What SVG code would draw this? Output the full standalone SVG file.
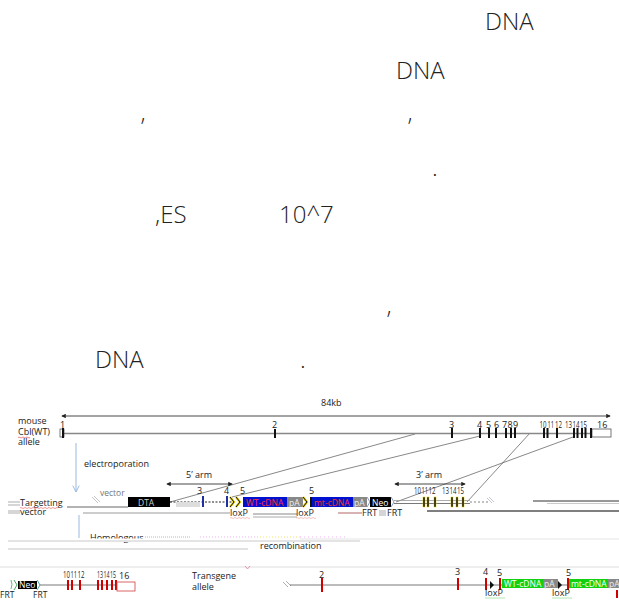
<svg xmlns="http://www.w3.org/2000/svg" width="619" height="601" viewBox="0 0 619 601">
<defs>
<style>
.para{font-family:"Open Sans","Noto Sans",sans-serif;font-size:24px;font-weight:300;fill:#222}
.lb{font-family:"Open Sans","Noto Sans",sans-serif;font-size:9px;fill:#222}
.sm{font-family:"Open Sans","Noto Sans",sans-serif;font-size:8.5px;fill:#222}
.ex{fill:#111}
.rex{fill:#d00000}
.gl{stroke:#bbb;stroke-width:1.2;fill:none}
.dl{stroke:#555;stroke-width:0.7;fill:none}
.bw{fill:#fff;font-family:"Open Sans","Noto Sans",sans-serif;font-size:8.5px}
</style>
<marker id="ah" viewBox="0 0 6 6" refX="5" refY="3" markerWidth="5" markerHeight="5" orient="auto-start-reverse"><path d="M0,0 L6,3 L0,6 z" fill="#222"/></marker>
<marker id="bh" viewBox="0 0 10 10" refX="9" refY="5" markerWidth="8" markerHeight="8" orient="auto"><path d="M1,1 L9,5 L1,9" fill="none" stroke="#9ab8dc" stroke-width="1.2"/></marker>
</defs>
<rect width="619" height="601" fill="#fff"/>

<g id="paragraph">
<text class="para" x="485" y="30">DNA</text>
<text class="para" x="396" y="79">DNA</text>
<text class="para" x="141" y="135">’</text>
<text class="para" x="408" y="135">’</text>
<text class="para" x="432" y="176">.</text>
<text class="para" x="155" y="223">,ES</text>
<text class="para" x="279" y="223">10^7</text>
<text class="para" x="387" y="328">’</text>
<text class="para" x="95" y="368">DNA</text>
<text class="para" x="300" y="368">.</text>
</g>

<g id="connectors">
<line x1="62" y1="416" x2="610" y2="416" stroke="#333" stroke-width="0.9" marker-start="url(#ah)" marker-end="url(#ah)"/>
<line x1="415" y1="434" x2="170" y2="502" class="dl"/>
<line x1="480" y1="436" x2="232" y2="497" class="dl"/>
<line x1="530" y1="433" x2="467" y2="502" class="dl"/>
<line x1="573" y1="437" x2="396" y2="502" class="dl"/>
<line x1="167" y1="484" x2="232" y2="484" stroke="#333" stroke-width="0.9" marker-start="url(#ah)" marker-end="url(#ah)"/>
<line x1="395" y1="484" x2="465" y2="484" stroke="#333" stroke-width="0.9" marker-start="url(#ah)" marker-end="url(#ah)"/>
<line x1="76" y1="443" x2="76" y2="492" stroke="#9ab8dc" stroke-width="1" marker-end="url(#bh)"/>
<line x1="79" y1="515" x2="79" y2="538" stroke="#9ab8dc" stroke-width="1"/>
</g>

<g id="wt-allele">
<text class="lb" x="18" y="424">mouse</text>
<text class="lb" x="18" y="435">Cbl(WT)</text>
<path d="M18,437.5 q1,-1 2,0 t2,0 t2,0 t2,0 t2,0 t2,0" stroke="#e03030" stroke-width="0.6" fill="none"/>
<text class="lb" x="18" y="445">allele</text>
<text class="lb" x="321" y="406">84kb</text>
<line x1="64" y1="433.5" x2="592" y2="433.5" stroke="#888" stroke-width="1.6"/>
<rect x="60" y="429" width="4" height="8" fill="#fff" stroke="#444" stroke-width="0.7"/>
<rect x="592" y="429" width="19" height="8" fill="#fff" stroke="#555" stroke-width="0.8"/>
<g class="ex">
<rect x="62" y="428" width="2" height="10"/>
<rect x="274" y="429" width="2" height="9"/>
<rect x="451" y="428" width="2" height="10"/>
<rect x="479" y="428" width="2" height="10"/>
<rect x="488" y="428" width="2" height="10"/>
<rect x="495" y="428" width="2" height="10"/>
<rect x="505" y="428" width="2" height="10"/>
<rect x="510" y="428" width="2" height="10"/>
<rect x="514" y="428" width="2" height="10"/>
<rect x="543" y="428" width="2" height="10"/>
<rect x="546.5" y="428" width="2" height="10"/>
<rect x="556" y="428" width="2" height="10"/>
<rect x="573" y="428" width="2" height="10"/>
<rect x="576.5" y="428" width="2" height="10"/>
<rect x="581" y="428" width="2" height="10"/>
<rect x="584.5" y="428" width="2" height="10"/>
<rect x="590" y="428" width="2" height="10"/>
</g>
<text class="lb" x="60" y="428">1</text>
<text class="lb" x="272" y="428">2</text>
<text class="lb" x="449" y="428">3</text>
<text class="lb" x="477" y="428">4</text>
<text class="lb" x="486" y="428">5</text>
<text class="lb" x="494" y="428">6</text>
<text class="lb" x="502" y="428">7</text>
<text class="lb" x="507.5" y="428">8</text>
<text class="lb" x="513" y="428">9</text>
<text class="lb" x="539.5" y="428" textLength="7" lengthAdjust="spacingAndGlyphs">10</text>
<text class="lb" x="547.5" y="428" textLength="6.5" lengthAdjust="spacingAndGlyphs">11</text>
<text class="lb" x="555" y="428" textLength="7" lengthAdjust="spacingAndGlyphs">12</text>
<text class="lb" x="565" y="428" textLength="7" lengthAdjust="spacingAndGlyphs">13</text>
<text class="lb" x="572.5" y="428" textLength="7" lengthAdjust="spacingAndGlyphs">14</text>
<text class="lb" x="580" y="428" textLength="7" lengthAdjust="spacingAndGlyphs">15</text>
<text class="lb" x="597" y="428">16</text>
<text class="lb" x="84" y="467">electroporation</text>
</g>

<g id="targeting-vector">
<text class="lb" x="186" y="478">5’  arm</text>
<text class="lb" x="416" y="478">3’  arm</text>
<line x1="8" y1="502" x2="20" y2="502" class="gl"/>
<line x1="8" y1="505" x2="20" y2="505" class="gl"/>
<line x1="8" y1="511" x2="20" y2="511" class="gl"/>
<line x1="8" y1="513" x2="20" y2="513" class="gl"/>
<text class="lb" x="20" y="506">Targetting</text>
<path d="M20,508 q1,-1 2,0 t2,0 t2,0 t2,0 t2,0 t2,0 t2,0 t2,0 t2,0 t2,0 t2,0 t2,0 t2,0 t2,0 t2,0 t2,0 t2,0 t2,0 t2,0" stroke="#e03030" stroke-width="0.5" fill="none"/>
<text class="lb" x="20" y="515">vector</text>
<line x1="67" y1="507" x2="128" y2="507" stroke="#666" stroke-width="1"/>
<line x1="83" y1="513" x2="230" y2="513" stroke="#999" stroke-width="1"/>
<line x1="253" y1="514" x2="297" y2="514" stroke="#888" stroke-width="1"/>
<line x1="253" y1="517" x2="297" y2="517" stroke="#aaa" stroke-width="1"/>
<line x1="427" y1="511" x2="619" y2="511" stroke="#555" stroke-width="1.3"/>
<line x1="533" y1="501" x2="619" y2="501" stroke="#333" stroke-width="1"/>
<line x1="547" y1="503.5" x2="619" y2="503.5" stroke="#aaa" stroke-width="0.6"/>
<text class="sm" x="100" y="496" style="fill:#777">vector</text>
<path d="M92,497 l6,6 M94,496 l6,6" stroke="#aaa" stroke-width="0.7"/>
<line x1="170" y1="502" x2="232" y2="502" stroke="#222" stroke-width="1" stroke-dasharray="2 1.5"/>
<rect x="176" y="502" width="24" height="5" fill="#ddd"/>
<rect x="128" y="497" width="42" height="10" fill="#000"/>
<text class="bw" x="138" y="505.5" style="fill:#ccc">DTA</text>
<rect x="202" y="496" width="2" height="11" fill="#2030a0"/>
<rect x="226" y="496" width="2" height="11" fill="#2030a0"/>
<text class="lb" x="197" y="494">3</text>
<text class="lb" x="224" y="494">4</text>
<text class="lb" x="240" y="494">5</text>
<path d="M230,497 l4,5 l-4,5 M236,497 l4,5 l-4,5" stroke="#e8d000" stroke-width="2.2" fill="none"/>
<path d="M230,497 l4,5 l-4,5 M236,497 l4,5 l-4,5" stroke="#111" stroke-width="1" fill="none"/>
<rect x="243" y="497" width="44" height="10" fill="#0010d0"/>
<text class="bw" x="246" y="505.5" style="fill:#ff3030">WT-cDNA</text>
<rect x="287" y="497" width="16" height="10" fill="#888"/>
<text class="bw" x="289" y="505.5" style="fill:#eee">pA</text>
<path d="M303,497 l4,5 l-4,5" stroke="#e8d000" stroke-width="2.2" fill="none"/>
<path d="M303,497 l4,5 l-4,5" stroke="#111" stroke-width="1" fill="none"/>
<text class="lb" x="230" y="516">loxP</text>
<path d="M230,518 q1,-1 2,0 t2,0 t2,0 t2,0 t2,0 t2,0 t2,0 t2,0 t2,0 t2,0" stroke="#f08080" stroke-width="0.5" fill="none"/>
<text class="lb" x="296" y="516">loxP</text>
<path d="M296,518 q1,-1 2,0 t2,0 t2,0 t2,0 t2,0 t2,0 t2,0 t2,0 t2,0 t2,0" stroke="#f08080" stroke-width="0.5" fill="none"/>
<text class="lb" x="309" y="494">5</text>
<rect x="310" y="497" width="2" height="10" fill="#111"/>
<rect x="312" y="497" width="41" height="10" fill="#0010d0"/>
<text class="bw" x="314" y="505.5" style="fill:#ff3030">mt-cDNA</text>
<rect x="353" y="497" width="14" height="10" fill="#888"/>
<text class="bw" x="354" y="505.5" style="fill:#eee">pA</text>
<path d="M367,497 l3,5 l-3,5" stroke="#8899cc" stroke-width="1" fill="none"/>
<rect x="370" y="497" width="21" height="10" fill="#000"/>
<text class="bw" x="372" y="505.5">Neo</text>
<path d="M391,497 l3,5 l-3,5" stroke="#8899cc" stroke-width="1" fill="none"/>
<line x1="394" y1="500.5" x2="470" y2="500.5" stroke="#999" stroke-width="0.8"/>
<line x1="394" y1="503.5" x2="470" y2="503.5" stroke="#555" stroke-width="0.8"/>
<g>
<rect x="423" y="497" width="2" height="10" fill="#111" stroke="#e8d000" stroke-width="0.5"/>
<rect x="427" y="497" width="2" height="10" fill="#111" stroke="#e8d000" stroke-width="0.5"/>
<rect x="434" y="497" width="2" height="10" fill="#111" stroke="#e8d000" stroke-width="0.5"/>
<rect x="451" y="497" width="2" height="10" fill="#111" stroke="#e8d000" stroke-width="0.5"/>
<rect x="456" y="497" width="2" height="10" fill="#111" stroke="#e8d000" stroke-width="0.5"/>
<rect x="462" y="497" width="2" height="10" fill="#111" stroke="#e8d000" stroke-width="0.5"/>
</g>
<text class="lb" x="414" y="494" textLength="7" lengthAdjust="spacingAndGlyphs">10</text>
<text class="lb" x="421.5" y="494" textLength="6.5" lengthAdjust="spacingAndGlyphs">11</text>
<text class="lb" x="428.5" y="494" textLength="7" lengthAdjust="spacingAndGlyphs">12</text>
<text class="lb" x="442" y="494" textLength="7" lengthAdjust="spacingAndGlyphs">13</text>
<text class="lb" x="449.5" y="494" textLength="7" lengthAdjust="spacingAndGlyphs">14</text>
<text class="lb" x="457" y="494" textLength="7" lengthAdjust="spacingAndGlyphs">15</text>
<line x1="470" y1="502" x2="488" y2="502" stroke="#666" stroke-width="0.8" stroke-dasharray="2 2"/>
<path d="M487,498 l5,5 M489,497 l5,5" stroke="#aab" stroke-width="0.7"/>
<line x1="338" y1="513" x2="362" y2="513" stroke="#c08080" stroke-width="1.2"/>
<text class="lb" x="362" y="516">FRT</text>
<path d="M379,511 h7 M379,513 h7 M379,515 h7" stroke="#888" stroke-width="0.7"/>
<text class="lb" x="387" y="516">FRT</text>
</g>

<g id="recombination">
<text class="lb" x="90" y="541">Homologous</text>
<line x1="145" y1="537" x2="190" y2="537" stroke="#999" stroke-width="0.7" stroke-dasharray="1 1"/>
<line x1="200" y1="537" x2="260" y2="537" stroke="#f0a0f0" stroke-width="0.8" stroke-dasharray="1 2"/>
<line x1="260" y1="537" x2="300" y2="537" stroke="#f0e040" stroke-width="0.8" stroke-dasharray="1 2"/>
<line x1="300" y1="537" x2="347" y2="537" stroke="#f0a0f0" stroke-width="0.8" stroke-dasharray="1 3"/>
<rect x="0" y="538.5" width="619" height="3.5" fill="#fff"/>
<line x1="8" y1="541" x2="360" y2="541" stroke="#e4e4e4" stroke-width="2"/>
<line x1="8" y1="549" x2="248" y2="549" stroke="#d8d8d8" stroke-width="1.5"/>
<line x1="300" y1="539" x2="619" y2="539" stroke="#eee" stroke-width="1.5"/>
<line x1="0" y1="567" x2="619" y2="567" stroke="#eee" stroke-width="2"/>
<text class="lb" x="260" y="549">recombination</text>
<path d="M245,566 l2.5,3 l2.5,-3" stroke="#e07090" stroke-width="0.7" fill="none"/>
</g>

<g id="transgene-allele">
<path d="M11,580 q2,4 0,9" stroke="#60c060" stroke-width="1" fill="none"/>
<path d="M14,580 l3,5 l-3,5" stroke="#4a6" stroke-width="1" fill="none"/>
<rect x="18" y="581" width="19" height="8" fill="#000"/>
<text class="bw" x="19" y="588">Neo</text>
<path d="M37,580 l3,5 l-3,5" stroke="#4aa" stroke-width="1" fill="none"/>
<text class="sm" x="0" y="598">FRT</text>
<text class="sm" x="33" y="598">FRT</text>
<line x1="40" y1="585" x2="116" y2="585" stroke="#555" stroke-width="0.8"/>
<g class="rex">
<rect x="67" y="580" width="2" height="10"/>
<rect x="71" y="580" width="2" height="10"/>
<rect x="79" y="580" width="2" height="10"/>
<rect x="97" y="580" width="2" height="10"/>
<rect x="101" y="580" width="2" height="10"/>
<rect x="106" y="580" width="2" height="10"/>
<rect x="111" y="580" width="2" height="10"/>
<rect x="115" y="580" width="2" height="10"/>
</g>
<rect x="117" y="582" width="18" height="9" fill="#fff" stroke="#d04040" stroke-width="0.8"/>
<text class="lb" x="63" y="578" textLength="7" lengthAdjust="spacingAndGlyphs">10</text>
<text class="lb" x="70.5" y="578" textLength="6.5" lengthAdjust="spacingAndGlyphs">11</text>
<text class="lb" x="77.5" y="578" textLength="7" lengthAdjust="spacingAndGlyphs">12</text>
<text class="lb" x="97" y="578" textLength="6" lengthAdjust="spacingAndGlyphs">13</text>
<text class="lb" x="103.5" y="578" textLength="6" lengthAdjust="spacingAndGlyphs">14</text>
<text class="lb" x="110" y="578" textLength="6" lengthAdjust="spacingAndGlyphs">15</text>
<text class="lb" x="119" y="579">16</text>
<text class="lb" x="192" y="579">Transgene</text>
<text class="lb" x="192" y="590">allele</text>
<path d="M283,582 l5,5 M286,581 l5,5" stroke="#999" stroke-width="0.8"/>
<line x1="290" y1="585" x2="619" y2="585" stroke="#555" stroke-width="0.8"/>
<g class="rex">
<rect x="321" y="578" width="2" height="14"/>
<rect x="457" y="578" width="2" height="12"/>
<rect x="485" y="578" width="2" height="12"/>
<rect x="499" y="578" width="2" height="12"/>
<rect x="567" y="578" width="2" height="12"/>
<rect x="616" y="590" width="2" height="8"/>
</g>
<text class="lb" x="319" y="578">2</text>
<text class="lb" x="455" y="575">3</text>
<text class="lb" x="483" y="575">4</text>
<text class="lb" x="497" y="576">5</text>
<text class="lb" x="566" y="576">5</text>
<path d="M490,581 l4,4 l-4,4 z" fill="#111"/>
<rect x="502" y="579" width="41" height="9" fill="#10d010"/>
<text class="bw" x="504" y="587">WT-cDNA</text>
<rect x="543" y="579" width="15" height="9" fill="#888"/>
<text class="bw" x="544" y="587" style="fill:#eee">pA</text>
<path d="M558,581 l4,4 l-4,4 z" fill="#111"/>
<rect x="569" y="579" width="39" height="9" fill="#10d010"/>
<text class="bw" x="571" y="587">mt-cDNA</text>
<rect x="608" y="579" width="11" height="9" fill="#888"/>
<text class="bw" x="609" y="587" style="fill:#eee">pA</text>
<text class="lb" x="485" y="596">loxP</text>
<line x1="485" y1="598" x2="505" y2="598" stroke="#a0e0a0" stroke-width="0.8"/>
<text class="lb" x="552" y="596">loxP</text>
<line x1="552" y1="598" x2="572" y2="598" stroke="#a0e0a0" stroke-width="0.8"/>
</g>
</svg>
